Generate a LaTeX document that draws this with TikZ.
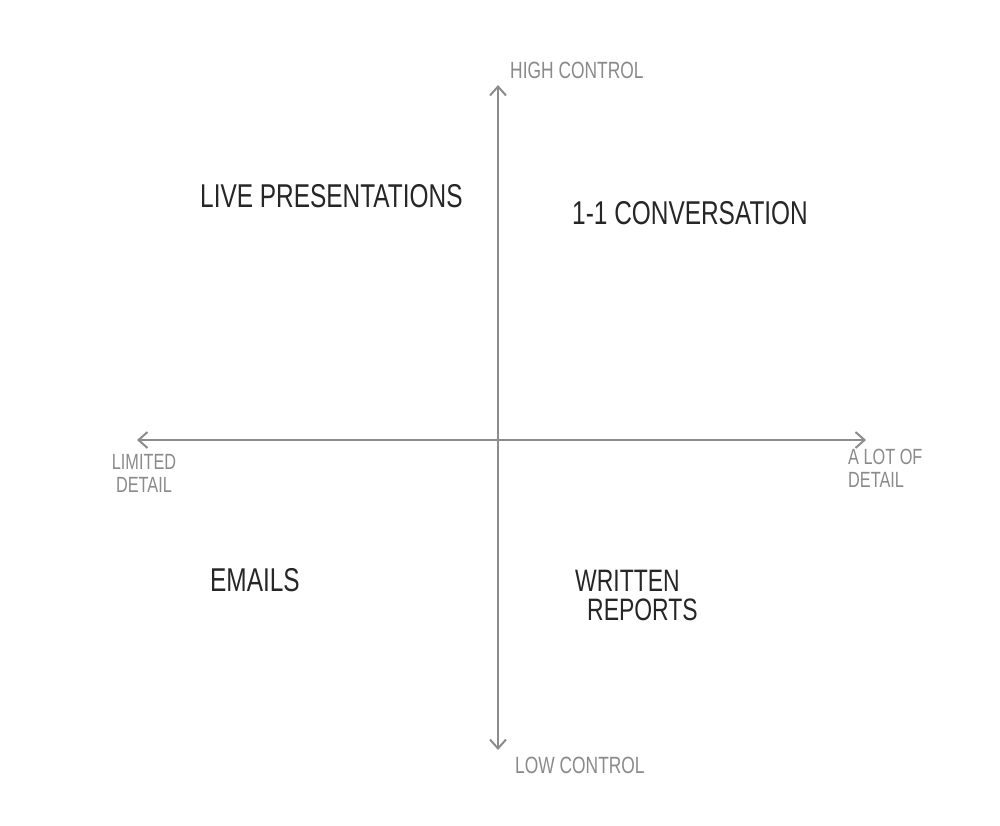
\documentclass[tikz,border=0pt]{standalone}
\usepackage{fontspec}
\usetikzlibrary{arrows.meta}
\newfontfamily\hand[FakeStretch=0.74]{Liberation Sans}
\definecolor{axisgray}{HTML}{8C8C8C}
\definecolor{labelgray}{HTML}{8A8A8A}
\tikzset{
  axisline/.style={draw=axisgray, line width=2.2pt, {Straight Barb[length=9pt,width=16pt,line width=2pt]}-{Straight Barb[length=9pt,width=16pt,line width=2pt]}},
  quad/.style={font=\hand\fontsize{33}{30}\selectfont, text=black!85, inner sep=0pt, align=left},
  axlabel/.style={font=\hand\fontsize{23.5}{21}\selectfont, text=labelgray, inner sep=0pt},
  axlabeltwo/.style={font=\hand\fontsize{22}{23}\selectfont, text=labelgray, inner sep=0pt},
}
\begin{document}
\begin{tikzpicture}[x=1pt,y=-1pt]
\useasboundingbox (0,0) rectangle (1000,825);
\coordinate (top) at (498,85);
\coordinate (bottom) at (498,750);
\coordinate (left) at (137,440);
\coordinate (right) at (866,440);
\draw[axisline] (bottom) -- (top);
\draw[axisline] (left) -- (right);
\node[axlabel, anchor=west] (high) at (510,70) {HIGH CONTROL};
\node[axlabel, anchor=west] (low) at (515,765) {LOW CONTROL};
\node[axlabeltwo, align=center] (limited) at (144,473) {LIMITED\\DETAIL};
\node[axlabeltwo, align=left, anchor=west] (alot) at (848,468) {A LOT OF\\DETAIL};
\node[quad, anchor=west] (live) at (200,196) {LIVE PRESENTATIONS};
\node[quad, anchor=west] (conv) at (572,213) {1-1 CONVERSATION};
\node[quad, anchor=west] (emails) at (210,580) {EMAILS};
\node[font=\hand\fontsize{31}{29}\selectfont, text=black!85, inner sep=0pt, align=left, anchor=north west] (written) at (575,570) {WRITTEN\\\hspace*{12pt}REPORTS};
\end{tikzpicture}
\end{document}
